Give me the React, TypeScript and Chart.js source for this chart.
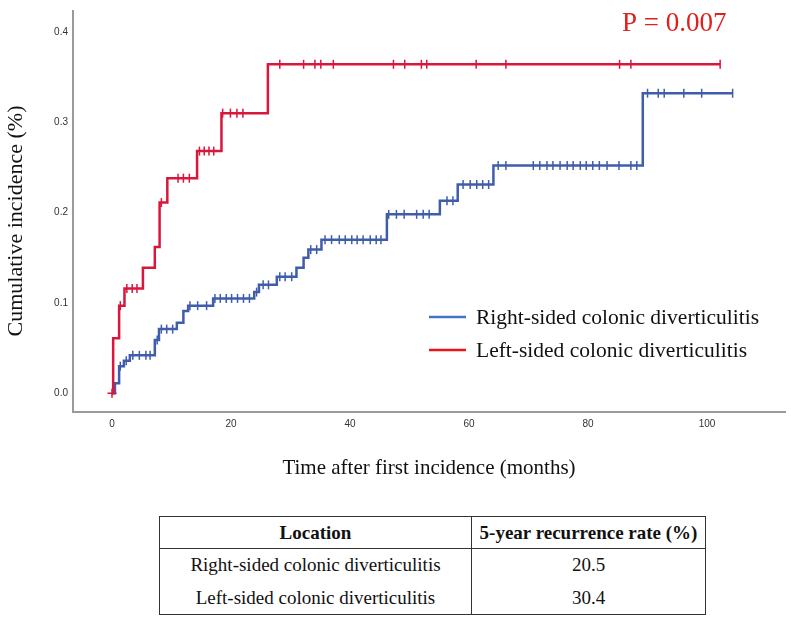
import { useEffect, useRef } from "react";
import { Chart, registerables } from "chart.js";
Chart.register(...registerables);

// ---- Data (months, cumulative incidence) ----
const xTicks = [0, 20, 40, 60, 80, 100];
const yTicks = [0, 0.1, 0.2, 0.3, 0.4];

const seriesLabels = ["Right-sided colonic diverticulitis", "Left-sided colonic diverticulitis"];

const rightEventTimes = [0.5, 1.2, 2.0, 3.0, 7.2, 7.9, 10.9, 12.0, 12.8, 17.0, 23.9, 24.7, 27.7, 31.0, 32.2, 33.0, 35.2, 46.2, 55.1, 58.1, 64.1, 89.2];
const rightEventValues = [0.011, 0.030, 0.036, 0.042, 0.059, 0.071, 0.078, 0.091, 0.097, 0.105, 0.112, 0.120, 0.129, 0.139, 0.150, 0.159, 0.170, 0.198, 0.213, 0.231, 0.252, 0.332];
const rightLastTime = 104.3;
const rightCensored = [1.4, 2.4, 3.5, 4.6, 5.7, 6.4, 7.6, 8.3, 9.2, 10.2, 13.1, 14.4, 15.9, 17.3, 18.2, 19.2, 20.1, 21.1, 22.1, 23.1, 24.3, 25.4, 26.3, 28.2, 29.1, 30.2, 33.4, 34.4, 35.8, 36.9, 38.2, 39.2, 40.3, 41.2, 42.2, 43.4, 44.4, 45.2, 46.5, 47.8, 49.1, 51.2, 52.3, 53.3, 56.3, 57.3, 59.0, 60.2, 61.3, 62.3, 63.3, 64.9, 66.2, 70.8, 71.9, 73.1, 74.1, 75.3, 76.5, 77.5, 78.7, 79.7, 80.8, 81.9, 83.2, 85.2, 87.2, 88.2, 90.0, 91.8, 92.8, 96.1, 99.1, 104.3];

const leftEventTimes = [0.2, 1.2, 2.1, 5.2, 7.2, 8.0, 9.3, 14.3, 18.4, 26.2];
const leftEventValues = [0.061, 0.097, 0.116, 0.139, 0.162, 0.211, 0.238, 0.268, 0.310, 0.364];
const leftLastTime = 102.2;
const leftCensored = [0, 1.4, 2.5, 3.4, 4.2, 8.3, 11.1, 12.0, 13.0, 14.7, 15.5, 16.3, 17.1, 18.6, 19.9, 21.0, 22.0, 28.2, 32.2, 34.1, 35.1, 37.2, 47.3, 49.2, 52.0, 52.9, 61.2, 66.2, 85.3, 87.2, 102.2];

const pValueText = "P = 0.007";
const xTitle = "Time after first incidence (months)";
const yTitle = "Cumulative incidence (%)";

const tableHeader = ["Location", "5-year recurrence rate (%)"];
const tableLocations = ["Right-sided colonic diverticulitis", "Left-sided colonic diverticulitis"];
const tableRates = ["20.5", "30.4"];

// ---- Helpers ----
function stepLine(times: number[], values: number[], last: number) {
  const pts = [{ x: 0, y: 0 }];
  times.forEach((t, i) => pts.push({ x: t, y: values[i] }));
  pts.push({ x: last, y: values[values.length - 1] });
  return pts;
}
function levelAt(times: number[], values: number[], t: number) {
  let v = 0;
  for (let i = 0; i < times.length; i++) if (times[i] <= t) v = values[i];
  return v;
}
function censorPoints(c: number[], times: number[], values: number[]) {
  return c.map((t) => ({ x: t, y: levelAt(times, values, t) }));
}

const BLUE = "#3f5dab";
const RED = "#d8173d";
const LEG_BLUE = "#4472c4";
const LEG_RED = "#e8141c";
const SERIF = "'Liberation Serif', 'Times New Roman', serif";
const SANS = "'Liberation Sans', Arial, sans-serif";

const overlayPlugin = {
  id: "overlay",
  afterDraw(chart: any) {
    const { ctx, chartArea } = chart;
    ctx.save();
    // y title
    ctx.fillStyle = "#111";
    ctx.font = `22px ${SERIF}`;
    ctx.textAlign = "center";
    ctx.textBaseline = "middle";
    ctx.save();
    ctx.translate(16, 221);
    ctx.rotate(-Math.PI / 2);
    ctx.fillText(yTitle, 0, 0);
    ctx.restore();
    // x title
    ctx.font = `21px ${SERIF}`;
    ctx.fillText(xTitle, (chartArea.left + chartArea.right) / 2, 468);
    // p-value
    ctx.fillStyle = "#e0201e";
    ctx.font = `27px ${SERIF}`;
    ctx.textAlign = "left";
    ctx.textBaseline = "alphabetic";
    ctx.fillText(pValueText, 622, 31);
    // legend
    const legColors = [LEG_BLUE, LEG_RED];
    const legY = [317, 350];
    ctx.font = `21.5px ${SERIF}`;
    ctx.textBaseline = "middle";
    seriesLabels.forEach((lab, i) => {
      ctx.strokeStyle = legColors[i];
      ctx.lineWidth = 2.5;
      ctx.beginPath();
      ctx.moveTo(429, legY[i]);
      ctx.lineTo(466, legY[i]);
      ctx.stroke();
      ctx.fillStyle = "#111";
      ctx.fillText(lab, 476, legY[i] + 1);
    });
    ctx.restore();
  },
};

const censorStyle = (c: any) => (c.raw && c.raw.x === 0 ? "cross" : "line");
const censorRotation = (c: any) => (c.raw && c.raw.x === 0 ? 0 : 90);

function KMChart() {
  const ref = useRef<HTMLCanvasElement | null>(null);
  useEffect(() => {
    if (!ref.current) return;
    const chart = new Chart(ref.current, {
      type: "line",
      data: {
        datasets: [
          {
            label: seriesLabels[1],
            data: stepLine(leftEventTimes, leftEventValues, leftLastTime),
            borderColor: RED,
            borderWidth: 2.5,
            stepped: "before",
            pointRadius: 0,
            fill: false,
          },
          {
            label: seriesLabels[1] + " censored",
            data: censorPoints(leftCensored, leftEventTimes, leftEventValues),
            showLine: false,
            pointStyle: censorStyle,
            rotation: censorRotation,
            pointRadius: 4.5,
            pointBorderWidth: 1.5,
            borderColor: RED,
            backgroundColor: RED,
          } as any,
          {
            label: seriesLabels[0],
            data: stepLine(rightEventTimes, rightEventValues, rightLastTime),
            borderColor: BLUE,
            borderWidth: 2.5,
            stepped: "before",
            pointRadius: 0,
            fill: false,
          },
          {
            label: seriesLabels[0] + " censored",
            data: censorPoints(rightCensored, rightEventTimes, rightEventValues),
            showLine: false,
            pointStyle: "line",
            rotation: 90,
            pointRadius: 4.5,
            pointBorderWidth: 1.5,
            borderColor: BLUE,
            backgroundColor: BLUE,
          } as any,
        ],
      },
      options: {
        responsive: false,
        animation: false,
        devicePixelRatio: 1,
        layout: { padding: { left: 0, top: 4, right: 6, bottom: 0 } },
        plugins: { legend: { display: false }, tooltip: { enabled: false } },
        elements: { line: { tension: 0 } },
        scales: {
          x: {
            type: "linear",
            min: -6.55,
            max: 113.1,
            grid: { display: false, drawTicks: false },
            border: { display: true, color: "#9a9a9a", width: 2 },
            ticks: {
              color: "#333",
              font: { family: SANS, size: 10 },
              padding: 6,
            },
            afterBuildTicks: (s: any) => {
              s.ticks = xTicks.map((v) => ({ value: v }));
            },
            afterFit: (s: any) => {
              s.height = 88;
            },
          },
          y: {
            type: "linear",
            min: -0.0207,
            max: 0.423,
            grid: { display: false, drawTicks: false },
            border: { display: true, color: "#9a9a9a", width: 2 },
            ticks: {
              color: "#333",
              font: { family: SANS, size: 10 },
              padding: 5,
              callback: (v: any) => Number(v).toFixed(1),
            },
            afterBuildTicks: (s: any) => {
              s.ticks = yTicks.map((v) => ({ value: v }));
            },
            afterFit: (s: any) => {
              s.width = 73;
            },
          },
        },
      },
      plugins: [overlayPlugin],
    });
    return () => chart.destroy();
  }, []);
  return <canvas ref={ref} width={791} height={500} style={{ position: "absolute", left: 0, top: 0, width: 791, height: 500 }} />;
}

export default function App() {
  const cell: React.CSSProperties = {
    fontFamily: SERIF,
    fontSize: 19,
    color: "#111",
    textAlign: "center",
    padding: 0,
    borderLeft: "1.5px solid #333",
    borderRight: "1.5px solid #333",
  };
  return (
    <div style={{ position: "absolute", left: 0, top: 0, width: 791, height: 621, background: "#fff" }}>
      <KMChart />
      <table
        style={{
          position: "absolute",
          left: 159,
          top: 516,
          width: 546,
          borderCollapse: "collapse",
          tableLayout: "fixed",
          border: "1.5px solid #333",
        }}
      >
        <colgroup>
          <col style={{ width: 312 }} />
          <col style={{ width: 234 }} />
        </colgroup>
        <thead>
          <tr style={{ height: 32 }}>
            {tableHeader.map((h) => (
              <th key={h} style={{ ...cell, fontWeight: "bold", borderBottom: "1.5px solid #333" }}>
                {h}
              </th>
            ))}
          </tr>
        </thead>
        <tbody>
          {tableLocations.map((loc, i) => (
            <tr key={loc} style={{ height: 33 }}>
              <td style={cell}>{loc}</td>
              <td style={cell}>{tableRates[i]}</td>
            </tr>
          ))}
        </tbody>
      </table>
    </div>
  );
}
